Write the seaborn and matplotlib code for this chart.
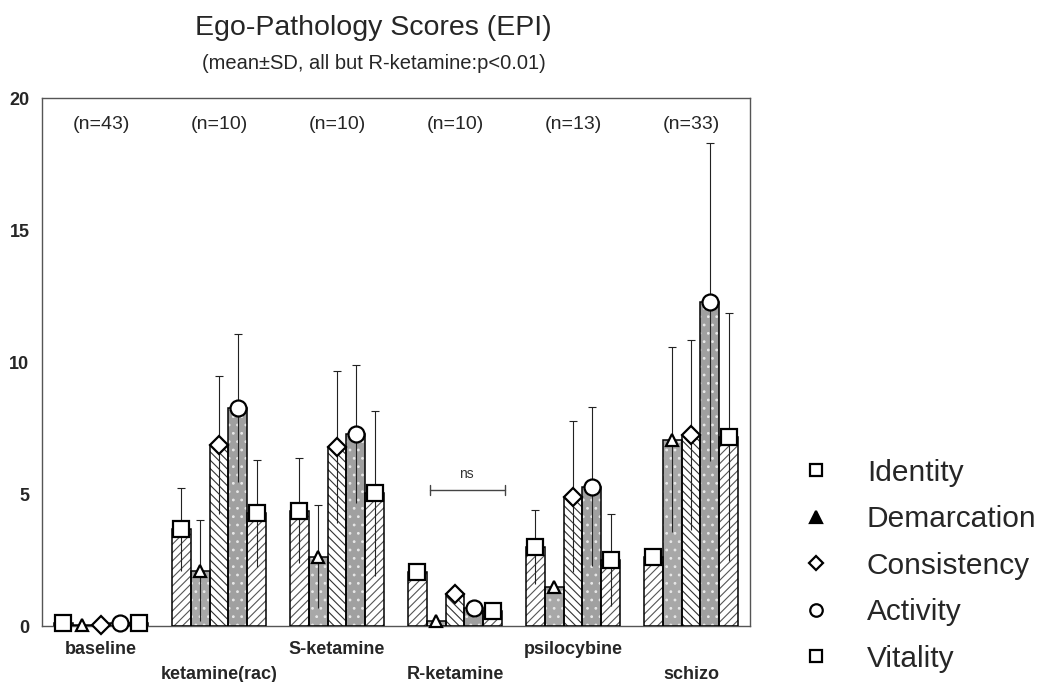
import numpy as np
import pandas as pd
import matplotlib
matplotlib.use("Agg")
import matplotlib.pyplot as plt
import seaborn as sns
from matplotlib.patches import Rectangle
from matplotlib.lines import Line2D

groups = ["baseline", "ketamine(rac)", "S-ketamine", "R-ketamine", "psilocybine", "schizo"]
n_labels = ["(n=43)", "(n=10)", "(n=10)", "(n=10)", "(n=13)", "(n=33)"]
scales = ["Identity", "Demarcation", "Consistency", "Activity", "Vitality"]

identity_mean = [0.10, 3.67, 4.37, 2.04, 3.00, 2.60]
demarcation_mean = [0.05, 2.10, 2.63, 0.18, 1.49, 7.05]
consistency_mean = [0.05, 6.86, 6.79, 1.20, 4.90, 7.23]
activity_mean = [0.10, 8.27, 7.27, 0.68, 5.28, 12.28]
vitality_mean = [0.10, 4.27, 5.03, 0.58, 2.50, 7.16]

identity_sd = [0.0, 1.57, 2.00, 0.0, 1.40, 0.0]
demarcation_sd = [0.0, 1.90, 1.95, 0.0, 0.0, 3.50]
consistency_sd = [0.0, 2.62, 2.88, 0.0, 2.85, 3.60]
activity_sd = [0.0, 2.80, 2.60, 0.0, 3.00, 6.02]
vitality_sd = [0.0, 2.03, 3.12, 0.0, 1.75, 4.70]

means = [identity_mean, demarcation_mean, consistency_mean, activity_mean, vitality_mean]
sds = [identity_sd, demarcation_sd, consistency_sd, activity_sd, vitality_sd]

rows = []
for s, m in zip(scales, means):
    for g, v in zip(groups, m):
        rows.append({"group": g, "scale": s, "value": v})
df = pd.DataFrame(rows)

sns.set_style("white")
plt.rcParams["font.family"] = ["Liberation Sans", "DejaVu Sans"]
plt.rcParams["hatch.linewidth"] = 0.8

fig = plt.figure(figsize=(10.42, 6.82), dpi=100)
ax = fig.add_axes([0.0403, 0.0821, 0.6795, 0.7742])

sns.barplot(data=df, x="group", y="value", hue="scale", order=groups,
            hue_order=scales, width=0.8, errorbar=None, ax=ax, legend=False,
            palette=["white"] * 5, saturation=1)

styles = {
    "Identity": dict(face="white", hatch="////", hcol="#555555"),
    "Demarcation": dict(face="#a8a8a8", hatch="..", hcol="#e8e8e8"),
    "Consistency": dict(face="white", hatch="\\\\\\\\", hcol="#333333"),
    "Activity": dict(face="#a0a0a0", hatch="..", hcol="#e8e8e8"),
    "Vitality": dict(face="white", hatch="////", hcol="#555555"),
}
markers = {"Identity": "s", "Demarcation": "^", "Consistency": "D",
           "Activity": "o", "Vitality": "s"}
msizes = {"Identity": 11, "Demarcation": 9, "Consistency": 9,
          "Activity": 11.5, "Vitality": 11}

for k, (scale, cont) in enumerate(zip(scales, ax.containers)):
    st = styles[scale]
    xs, ys = [], []
    for p in cont.patches:
        p.set_facecolor(st["face"])
        p.set_edgecolor(st["hcol"])
        p.set_hatch(st["hatch"])
        p.set_linewidth(0)
        p.set_zorder(2)
        ax.add_patch(Rectangle((p.get_x(), p.get_y()), p.get_width(), p.get_height(),
                               fill=False, edgecolor="black", linewidth=1.1, zorder=3))
        xs.append(p.get_x() + p.get_width() / 2)
        ys.append(p.get_height())
    xs = np.array(xs)
    ys = np.array(ys)
    sd = np.array(sds[k])
    mask = sd > 0
    ax.errorbar(xs[mask], ys[mask], yerr=[np.zeros(mask.sum()), sd[mask]], fmt="none",
                ecolor="#222222", elinewidth=0.8, capsize=3, capthick=0.8, zorder=4)
    ax.vlines(xs[mask], ys[mask] - sd[mask], ys[mask], colors="#222222",
              linewidth=0.8, zorder=4)
    ax.plot(xs, ys, linestyle="none", marker=markers[scale], markersize=msizes[scale],
            markerfacecolor="white", markeredgecolor="black", markeredgewidth=1.6,
            zorder=5, clip_on=False)

ax.set_xlim(-0.5, 5.5)
ax.set_ylim(0, 20)
ax.set_yticks([0, 5, 10, 15, 20])
ax.set_xlabel("")
ax.set_ylabel("")
for sp in ax.spines.values():
    sp.set_color("#555555")
    sp.set_linewidth(1.0)
ax.tick_params(axis="y", direction="in", length=3, labelsize=13, pad=9)
ax.tick_params(axis="x", length=0, labelsize=13, pad=11)
for lbl in ax.get_yticklabels() + ax.get_xticklabels():
    lbl.set_fontweight("bold")
for i, t in enumerate(ax.xaxis.get_major_ticks()):
    if i % 2 == 1:
        t.set_pad(29)

for i, n in enumerate(n_labels):
    ax.text(i, 19.0, n, ha="center", va="center", fontsize=14)

# ns bracket for R-ketamine
ax.plot([2.79, 3.42], [5.15, 5.15], color="#444444", linewidth=1)
ax.plot([2.79, 2.79], [4.95, 5.35], color="#444444", linewidth=1)
ax.plot([3.42, 3.42], [4.95, 5.35], color="#444444", linewidth=1)
ax.text(3.1, 5.5, "ns", ha="center", va="bottom", fontsize=10, color="#333333")

fig.text(0.187, 0.9487, "Ego-Pathology Scores (EPI)", ha="left", va="baseline", fontsize=20.5)
fig.text(0.194, 0.8988, "(mean\u00b1SD, all but R-ketamine:p<0.01)", ha="left",
         va="baseline", fontsize=14.5)

handles = []
for s in scales:
    fill = "black" if s == "Demarcation" else "white"
    handles.append(Line2D([], [], linestyle="none", marker=markers[s],
                          markersize=9 if s != "Consistency" else 7,
                          markerfacecolor=fill, markeredgecolor="black",
                          markeredgewidth=1.6))
fig.legend(handles, scales, loc="upper left", bbox_to_anchor=(0.743, 0.367),
           frameon=False, fontsize=21.5, handletextpad=1.2, labelspacing=0.62,
           handlelength=1.0, borderpad=0.4)

fig.savefig("out.png", dpi=100, facecolor="white")
